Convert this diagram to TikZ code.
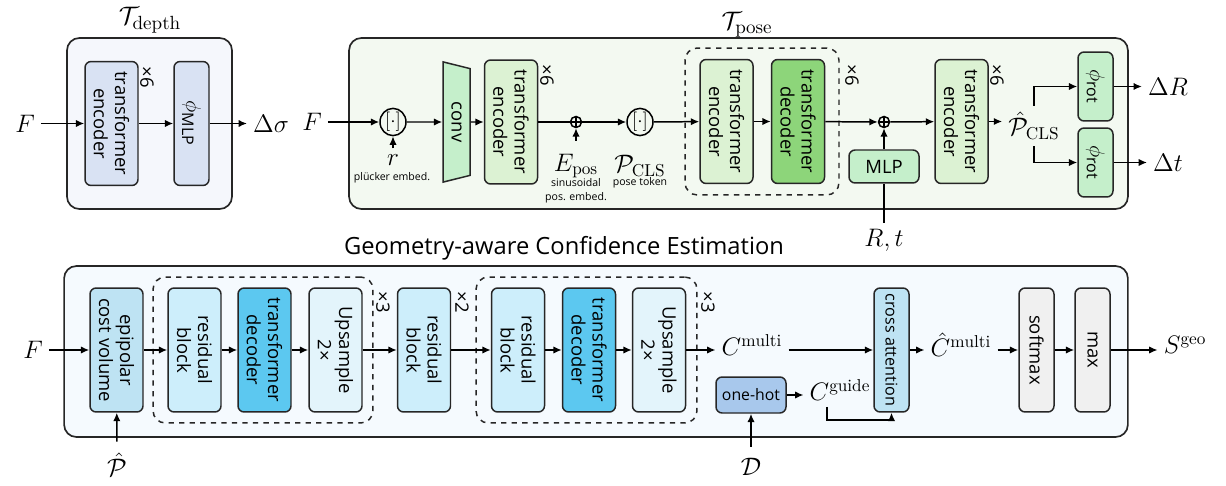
\documentclass[tikz,border=0pt]{standalone}
\usepackage{amsmath,amssymb}
\usepackage{fontspec}
\setsansfont{Open Sans}
\usetikzlibrary{shapes.geometric, arrows.meta, positioning, calc}

\definecolor{depthbg}{HTML}{F5F7FC}
\definecolor{depthbox}{HTML}{D9E2F3}
\definecolor{posebg}{HTML}{F3F9F1}
\definecolor{poseenc}{HTML}{DCF2D3}
\definecolor{posedec}{HTML}{8DD57A}
\definecolor{posemlp}{HTML}{C5EFCB}
\definecolor{geobg}{HTML}{F5FAFE}
\definecolor{geocost}{HTML}{BEE3F3}
\definecolor{geores}{HTML}{CDEEFB}
\definecolor{geodec}{HTML}{5CC8F0}
\definecolor{geoup}{HTML}{E3F4FB}
\definecolor{geohot}{HTML}{A8C8EC}
\definecolor{geogray}{HTML}{F0F0F0}

\begin{document}
\begin{tikzpicture}[
    x=0.02cm, y=-0.02cm,
    font=\sffamily\fontsize{10.5}{12}\selectfont,
    panel/.style = {draw=black!85, line width=0.95pt, rounded corners=7pt, inner sep=0pt},
    group/.style = {draw=black!85, dashed, line width=0.85pt, rounded corners=7pt, inner sep=0pt},
    blk/.style = {
        draw=black!85, line width=0.85pt, rounded corners=3.5pt, inner sep=0pt,
        minimum width=1.06cm, minimum height=2.48cm
    },
    slim/.style = {minimum width=0.7cm},
    vlab/.style = {label={[rotate=-90, align=center]center:#1}},
    cat/.style = {ellipse, draw, line width=0.85pt, minimum width=0.52cm,
        minimum height=0.44cm, inner sep=0pt, font=\fontsize{11}{12}\selectfont},
    addop/.style = {circle, draw, line width=0.85pt, minimum size=0.22cm, inner sep=0pt,
        path picture={\draw[line width=0.7pt]
            (path picture bounding box.north) -- (path picture bounding box.south)
            (path picture bounding box.west) -- (path picture bounding box.east);}},
    arr/.style = {-{Latex[length=4.8pt, width=4.2pt]}, line width=0.85pt},
    ln/.style = {line width=0.85pt},
    rep/.style = {rotate=-90, font=\sffamily\fontsize{10.5}{12}\selectfont},
    sym/.style = {font=\fontsize{14}{16}\selectfont},
    note/.style = {font=\sffamily\fontsize{6}{7}\selectfont, inner sep=0pt},
    head/.style = {font=\fontsize{15.5}{17}\selectfont},
]
\useasboundingbox (0,0) rectangle (1226,486);

% ---------- depth head ----------
\node[panel, fill=depthbg, minimum width=3.3cm, minimum height=3.42cm] (dpanel) at (149.5,123.5) {};
\node[head] (tdepth) at (150,20) {$\mathcal{T}_{\mathrm{depth}}$};
\node[blk, fill=depthbox, vlab={transformer\\encoder}] (denc) at (111.5,123.5) {};
\node[blk, slim, fill=depthbox, vlab={\fontsize{13}{14}\selectfont$\phi_{\textsf{MLP}}$}] (dmlp) at (191.5,123.5) {};
\node[rep] (drep) at (147,77) {×6};
\node[sym] (Fd) at (25,123.5) {$F$};
\node[sym] (dsig) at (271,123.5) {$\Delta\sigma$};

\draw[arr] (Fd) -- (denc);
\draw[arr] (denc) -- (dmlp);
\draw[arr] (dmlp) -- (dsig);

% ---------- pose head ----------
\node[panel, fill=posebg, minimum width=15.58cm, minimum height=3.42cm] (ppanel) at (738.5,123.5) {};
\node[head] (tpose) at (747,25) {$\mathcal{T}_{\mathrm{pose}}$};
\node[group, minimum width=3.08cm, minimum height=2.94cm] (pgrp) at (762,121.5) {};

\node[sym] (Fp) at (312,122) {$F$};
\node[cat] (cat1) at (393,122) {$[\cdot]$};
\node[sym] (rin) at (393,160) {$r$};
\node[note] (rnote) at (392,178) {plücker embed.};
\node[trapezium, draw=black!85, fill=posemlp, line width=0.85pt, trapezium angle=76,
      minimum width=1.64cm, minimum height=0.54cm, inner sep=0pt, rotate=-90] (conv) at (456.5,122) {conv};
\node[blk, fill=poseenc, vlab={transformer\\encoder}] (penc) at (511,122) {};
\node[rep] (prep1) at (547,75) {×6};
\node[addop] (add1) at (576,122) {};
\node[sym] (Epos) at (576,166) {$E_{\mathrm{pos}}$};
\node[note] (enote1) at (576,183) {sinusoidal};
\node[note] (enote2) at (576,198) {pos. embed.};
\node[cat] (cat2) at (640,122) {$[\cdot]$};
\node[sym] (Pcls) at (640,166) {$\mathcal{P}_{\mathrm{CLS}}$};
\node[note] (pnote) at (640,183) {pose token};
\node[blk, fill=poseenc, vlab={transformer\\encoder}] (penc2) at (726.5,121.5) {};
\node[blk, fill=posedec, vlab={transformer\\decoder}] (pdec) at (798,121.5) {};
\node[rep] (prep2) at (852,75) {×6};
\node[addop] (add2) at (884,122) {};
\node[blk, fill=posemlp, minimum width=1.4cm, minimum height=0.66cm] (mlp) at (884,166.5) {MLP};
\node[sym] (Rt) at (884,240) {$R,t$};
\node[blk, fill=poseenc, vlab={transformer\\encoder}] (penc3) at (961.5,121.5) {};
\node[rep] (prep3) at (997,75) {×6};
\node[sym] (pclshat) at (1034,126) {$\hat{\mathcal{P}}_{\mathrm{CLS}}$};
\node[blk, slim, fill=posemlp, minimum height=1.38cm,
      vlab={\fontsize{13}{14}\selectfont$\phi_{\textsf{rot}}$}] (rot1) at (1095.5,86.5) {};
\node[blk, slim, fill=posemlp, minimum height=1.38cm,
      vlab={\fontsize{13}{14}\selectfont$\phi_{\textsf{rot}}$}] (rot2) at (1095.5,162.5) {};
\node[sym] (dR) at (1168,86.5) {$\Delta R$};
\node[sym] (dt) at (1168,162.5) {$\Delta t$};

\draw[arr] (Fp) -- (cat1);
\draw[arr] (rin) -- (cat1);
\draw[arr] (cat1) -- (conv);
\draw[arr] (conv) -- (penc);
\draw[ln] (penc) -- (add1);
\draw[arr, shorten <=4pt] (Epos) -- (add1);
\draw[arr] (add1) -- (cat2);
\draw[arr] (cat2) -- (penc2);
\draw[arr] (penc2) -- (pdec);
\draw[arr] (pdec) -- (add2);
\draw[arr] (mlp) -- (add2);
\draw[ln] (Rt) -- (mlp);
\draw[arr] (add2) -- (penc3);
\draw[arr] (penc3) -- (penc3 -| pclshat.west);
\draw[arr] (pclshat.north) |- (rot1);
\draw[arr] (pclshat.south) |- (rot2);
\draw[arr] (rot1) -- (dR);
\draw[arr] (rot2) -- (dt);

% ---------- confidence head ----------
\node[panel, fill=geobg, minimum width=21.28cm, minimum height=3.42cm] (gpanel) at (596,351.5) {};
\node[font=\sffamily\fontsize{13.5}{16}\selectfont] (tgeo) at (564,248) {Geometry-aware Confidence Estimation};
\node[group, minimum width=4.4cm, minimum height=2.92cm] (ggrp1) at (263,350) {};
\node[group, minimum width=4.42cm, minimum height=2.92cm] (ggrp2) at (586.5,350) {};

\node[sym] (Fg) at (33,350) {$F$};
\node[blk, fill=geocost, vlab={epipolar\\cost volume}] (epi) at (116.5,350) {};
\node[sym] (Phat) at (117,465) {$\hat{\mathcal{P}}$};
\node[blk, fill=geores, vlab={residual\\block}] (res1) at (194.5,350) {};
\node[blk, fill=geodec, vlab={transformer\\decoder}] (dec1) at (264.5,350) {};
\node[blk, fill=geoup, vlab={Upsample\\2×}] (up1) at (335.5,350) {};
\node[rep] (grep1) at (383,302) {×3};
\node[blk, fill=geores, vlab={residual\\block}] (res2) at (424,350) {};
\node[rep] (grep2) at (462,302) {×2};
\node[blk, fill=geores, vlab={residual\\block}] (res3) at (518,350) {};
\node[blk, fill=geodec, vlab={transformer\\decoder}] (dec2) at (589,350) {};
\node[blk, fill=geoup, vlab={Upsample\\2×}] (up2) at (659,350) {};
\node[rep] (grep3) at (708,302) {×3};
\node[sym] (cmul) at (752,345) {$C^{\mathrm{multi}}$};
\node[blk, fill=geohot, minimum width=1.4cm, minimum height=0.72cm,
      font=\sffamily\fontsize{9}{11}\selectfont] (onehot) at (751,395) {one-hot};
\node[sym] (Dset) at (751,467) {$\mathcal{D}$};
\node[sym] (cguide) at (840,390) {$C^{\mathrm{guide}}$};
\node[blk, slim, fill=geocost, vlab={\fontsize{9.2}{11}\selectfont cross attention}] (xatt) at (891.5,350) {};
\node[sym] (chat) at (961,345) {$\hat{C}^{\mathrm{multi}}$};
\node[blk, slim, fill=geogray, vlab={softmax}] (soft) at (1036.5,350) {};
\node[blk, slim, fill=geogray, vlab={max}] (maxb) at (1092.5,350) {};
\node[sym] (sgeo) at (1185,345) {$S^{\mathrm{geo}}$};

\draw[arr] (Fg) -- (epi);
\draw[arr, shorten <=3pt] (Phat) -- (epi);
\draw[arr] (epi) -- (res1);
\draw[arr] (res1) -- (dec1);
\draw[arr] (dec1) -- (up1);
\draw[arr] (up1) -- (res2);
\draw[arr] (res2) -- (res3);
\draw[arr] (res3) -- (dec2);
\draw[arr] (dec2) -- (up2);
\draw[arr] (up2) -- (up2 -| cmul.west);
\draw[arr] (cmul.east |- xatt) -- (xatt);
\draw[arr, shorten <=3pt] (Dset) -- (onehot);
\draw[arr] (onehot) -- (onehot -| cguide.west);
\draw[arr] ([xshift=-0.26cm]cguide.south) -- ++(0,-0.26cm) -| (xatt.south);
\draw[arr] (xatt) -- (xatt -| chat.west);
\draw[arr] (chat.east |- soft) -- (soft);
\draw[arr] (soft) -- (maxb);
\draw[arr] (maxb) -- (maxb -| sgeo.west);

\end{tikzpicture}
\end{document}
